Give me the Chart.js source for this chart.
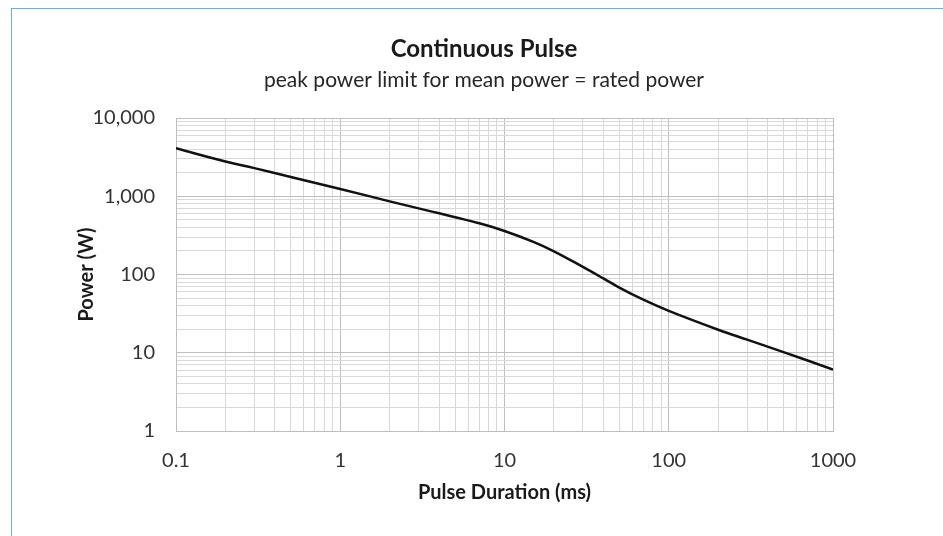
<!DOCTYPE html>
<html>
<head>
<meta charset="utf-8">
<script src="https://cdn.jsdelivr.net/npm/chart.js@4"></script>
<style>
  html, body { margin: 0; padding: 0; background: #fff; overflow: hidden; }
  #frame { position: absolute; left: 11px; top: 8px; width: 1000px; height: 600px;
           border-left: 1px solid #5bb5e6; border-top: 1px solid #5bb5e6; }
  #wrap { position: absolute; left: 25px; top: 0; width: 918px; height: 536px; }
</style>
</head>
<body>
<div id="frame"></div>
<div id="wrap"><canvas id="chart" width="918" height="536"></canvas></div>
<script>
// pulse duration (ms) and peak power (W)
const duration = [0.1, 0.2, 0.3, 0.5, 1, 2, 3, 4, 5, 7, 10, 15, 20, 30, 40, 50, 70, 100, 200, 300, 500, 1000];
const power = [4100, 2780, 2290, 1760, 1240, 860, 700, 605, 540, 452, 360, 261, 198, 125, 89, 68, 47.6, 34.3, 19.7, 14.7, 10.2, 6.1];

const xMajor = [0.1, 1, 10, 100, 1000];
const xTickLabels = ['0.1', '1', '10', '100', '1000'];
const yMajor = [1, 10, 100, 1000, 10000];
const yTickLabels = ['1', '10', '100', '1,000', '10,000'];

const fontFamily = 'Lato, "Open Sans", sans-serif';

function decadeTicks(lo, hi) {
    const out = [];
    for (let e = Math.round(Math.log10(lo)); e < Math.round(Math.log10(hi)); e++) {
        for (let k = 1; k < 10; k++) {
            out.push({ value: Number((k * Math.pow(10, e)).toPrecision(6)) });
        }
    }
    out.push({ value: hi });
    return out;
}

function majorIndex(list, v) {
    return list.findIndex(m => Math.abs(m - v) / m < 1e-6);
}

const ctx = document.getElementById('chart').getContext('2d');
new Chart(ctx, {
    type: 'line',
    data: {
        datasets: [{
            data: duration.map((d, i) => ({ x: d, y: power[i] })),
            borderColor: '#111',
            borderWidth: 2.5,
            pointRadius: 0,
            fill: false,
            tension: 0.4
        }]
    },
    options: {
        responsive: false,
        animation: false,
        layout: { padding: 0 },
        plugins: {
            legend: { display: false },
            tooltip: { enabled: false },
            title: {
                display: true,
                text: 'Continuous Pulse',
                color: '#1a1a1a',
                font: { family: fontFamily, size: 24, weight: 'bold' },
                padding: { top: 35, bottom: 0 }
            },
            subtitle: {
                display: true,
                text: 'peak power limit for mean power = rated power',
                color: '#262626',
                font: { family: fontFamily, size: 21 },
                padding: { top: 4, bottom: 25 }
            }
        },
        scales: {
            x: {
                type: 'logarithmic',
                min: 0.1,
                max: 1000,
                afterBuildTicks: (s) => { s.ticks = decadeTicks(0.1, 1000); },
                afterFit: (s) => { s.height = 105; },
                ticks: {
                    autoSkip: false,
                    maxRotation: 0,
                    padding: 18,
                    color: '#333',
                    font: { family: fontFamily, size: 20 },
                    callback: (v) => {
                        const i = majorIndex(xMajor, v);
                        return i >= 0 ? xTickLabels[i] : '';
                    }
                },
                grid: {
                    drawTicks: false,
                    color: (c) => c.tick && majorIndex(xMajor, c.tick.value) >= 0 ? '#bfbfbf' : '#d9d9d9'
                },
                border: { color: '#bfbfbf' },
                title: {
                    display: true,
                    text: 'Pulse Duration (ms)',
                    color: '#1a1a1a',
                    font: { family: fontFamily, size: 20, weight: 'bold' },
                    padding: { top: 0, bottom: 31 }
                }
            },
            y: {
                type: 'logarithmic',
                min: 1,
                max: 10000,
                afterBuildTicks: (s) => { s.ticks = decadeTicks(1, 10000); },
                afterFit: (s) => { s.width = 151; },
                ticks: {
                    autoSkip: false,
                    padding: 21,
                    color: '#333',
                    font: { family: fontFamily, size: 20 },
                    callback: (v) => {
                        const i = majorIndex(yMajor, v);
                        return i >= 0 ? yTickLabels[i] : '';
                    }
                },
                grid: {
                    drawTicks: false,
                    color: (c) => c.tick && majorIndex(yMajor, c.tick.value) >= 0 ? '#bfbfbf' : '#d9d9d9'
                },
                border: { color: '#bfbfbf' },
                title: {
                    display: true,
                    text: 'Power (W)',
                    color: '#1a1a1a',
                    font: { family: fontFamily, size: 20, weight: 'bold' },
                    padding: { top: 50, bottom: 0 }
                }
            },
            // empty right-hand axis that only reserves the blank margin right of the plot
            spacer: {
                type: 'linear',
                position: 'right',
                afterFit: (s) => { s.width = 110; },
                ticks: { display: false },
                grid: { display: false },
                border: { display: false }
            }
        }
    }
});
</script>
</body>
</html>
